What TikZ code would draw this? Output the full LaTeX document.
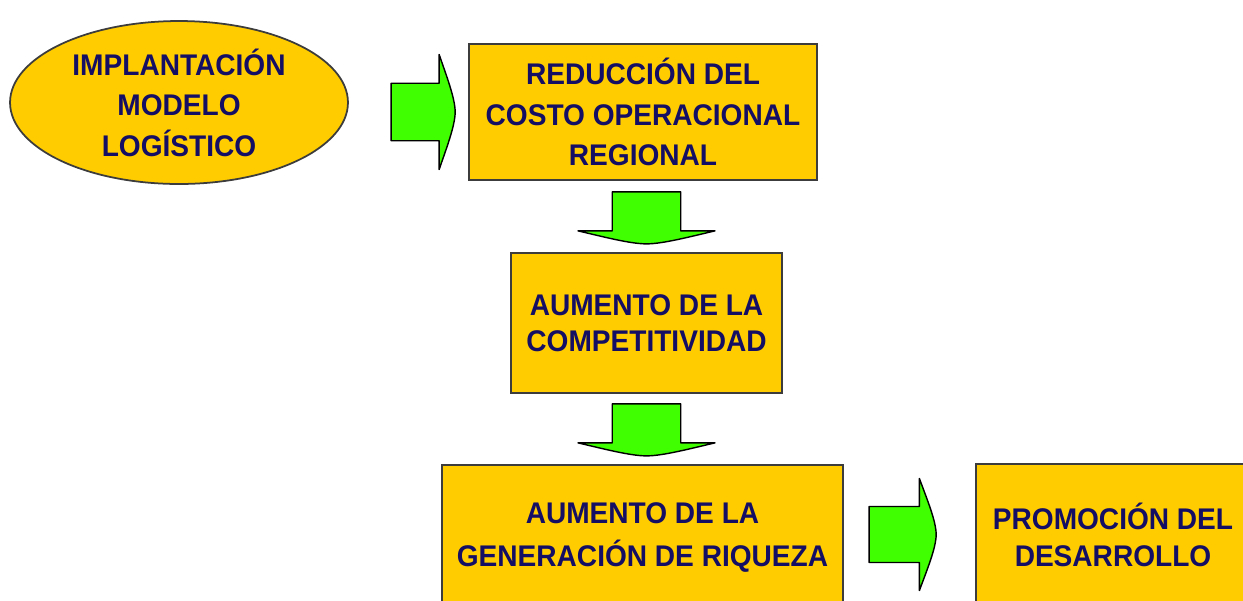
\documentclass[tikz,border=0pt]{standalone}
\usepackage{fontspec}
\setmainfont{Liberation Sans}[FakeStretch=0.94]
\usetikzlibrary{shapes.geometric,calc}

\definecolor{gold}{RGB}{255,204,0}
\definecolor{arrowgreen}{RGB}{64,255,0}
\definecolor{ink}{RGB}{20,14,100}
\definecolor{edge}{RGB}{60,60,60}

\tikzset{
  ybox/.style={draw=edge, line width=1pt, fill=gold, text=ink, align=center,
    inner sep=0pt, font=\fontsize{17}{#1}\selectfont\bfseries},
  ybox/.default=22,
  fatarrow/.pic={
    \draw[fill=arrowgreen, draw=black, line width=0.8pt, line join=round]
      (0,-0.25) -- (0.75,-0.25) -- (0.75,-0.5)
      .. controls (0.86,-0.32) and (1,-0.12) .. (1,0)
      .. controls (1,0.12) and (0.86,0.32) .. (0.75,0.5)
      -- (0.75,0.25) -- (0,0.25) -- cycle;
  }
}

\begin{document}
\begin{tikzpicture}[x=0.02cm, y=-0.02cm]

    \useasboundingbox (0,0) rectangle (1243,600);
    \clip (0,0) rectangle (1243,600);

    \node[ybox=23, ellipse, minimum width=6.76cm, minimum height=3.26cm] (plan) at (179,102.5) {IMPLANTACIÓN\\MODELO\\LOGÍSTICO};
    \node[ybox=23, minimum width=6.96cm, minimum height=2.72cm] (costo) at (643,112) {REDUCCIÓN DEL\\COSTO OPERACIONAL\\REGIONAL};
    \node[ybox=20.5, minimum width=5.42cm, minimum height=2.8cm] (compet) at (646.5,323) {AUMENTO DE LA\\COMPETITIVIDAD};
    \node[ybox=24.5, minimum width=8.02cm, minimum height=2.9cm] (riqueza) at (642.5,537.5) {AUMENTO DE LA\\GENERACIÓN DE RIQUEZA};
    \node[ybox=21, minimum width=5.48cm, minimum height=2.82cm] (desarr) at (1113,534.5) {PROMOCIÓN DEL\\DESARROLLO};

    \coordinate (a1) at ($(costo.west)+(-77,0)$);
    \coordinate (a2) at ($(costo.south -| compet.north)+(0,11)$);
    \coordinate (a3) at ($(compet.south)+(0,10)$);
    \coordinate (a4) at ($(desarr.west)+(-106,0)$);

    \path (a1) pic[xscale=64, yscale=115] {fatarrow};
    \foreach \c in {a2,a3}{
    \path (\c) pic[rotate=-90, xscale=52, yscale=137] {fatarrow};
}
    \path (a4) pic[xscale=67, yscale=112] {fatarrow};

\end{tikzpicture}
\end{document}
